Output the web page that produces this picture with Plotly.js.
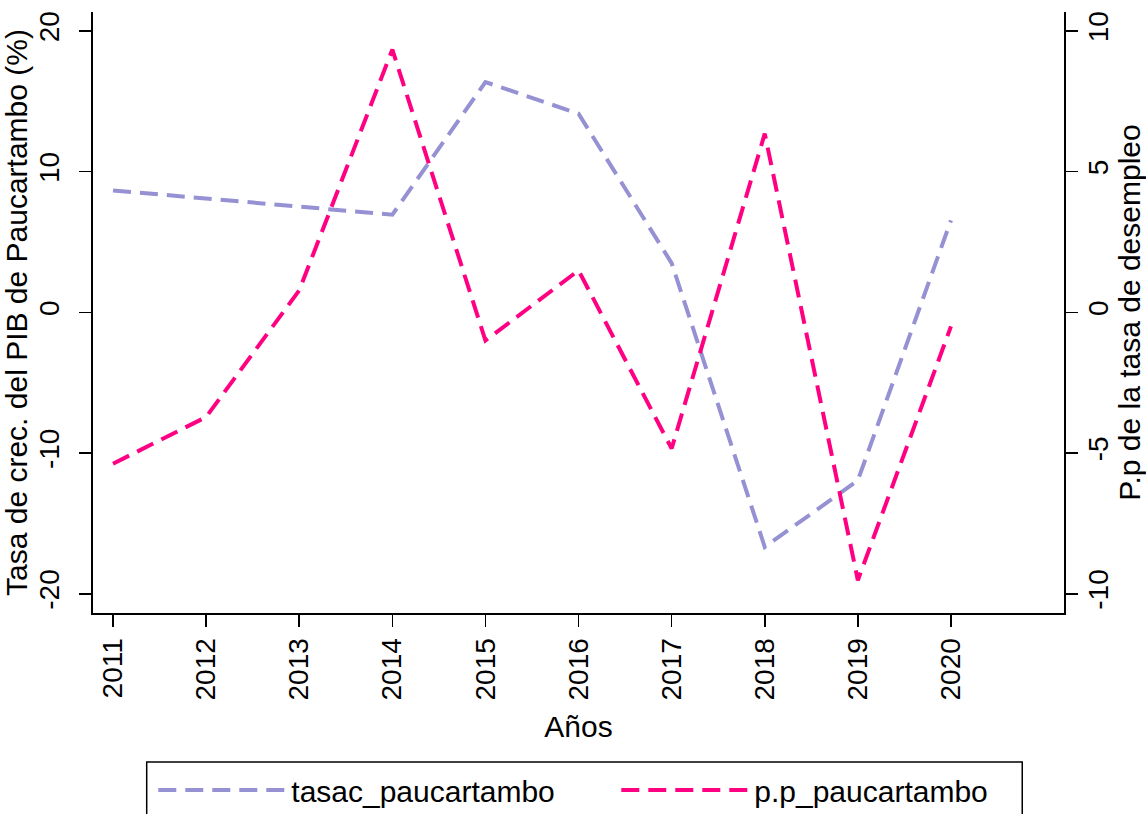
<!DOCTYPE html>
<html>
<head>
<meta charset="utf-8">
<script src="https://cdn.plot.ly/plotly-3.0.1.min.js"></script>
<style>html,body{margin:0;padding:0;background:#fff;}#chart{width:1146px;height:814px;}</style>
</head>
<body>
<div id="chart"></div>
<script>
const years = [2011, 2012, 2013, 2014, 2015, 2016, 2017, 2018, 2019, 2020];
const tasacPaucartambo = [8.67, 8.1, 7.5, 6.94, 16.37, 14.12, 3.5, -16.68, -11.94, 6.54];
const ppPaucartambo = [-5.38, -3.72, 0.78, 9.34, -1.0, 1.49, -4.84, 6.35, -9.52, -0.5];
const leftTicks = [-20, -10, 0, 10, 20];
const rightTicks = [-10, -5, 0, 5, 10];
const seriesNames = ['tasac_paucartambo', 'p.p_paucartambo'];

const FONT = 'Liberation Sans, Arial, Helvetica, sans-serif';
const axisCommon = {
  showgrid: false, zeroline: false, showline: true, linecolor: '#000', linewidth: 2,
  ticks: 'outside', ticklen: 12, tickwidth: 1.6, tickcolor: '#000',
  tickfont: {family: FONT, size: 28, color: '#000'}, tickangle: -90,
  automargin: false, fixedrange: true
};

const traces = [
  {x: years, y: tasacPaucartambo, name: seriesNames[0], type: 'scatter', mode: 'lines',
   line: {color: '#9591d3', width: 4, dash: '18px,9px'}, yaxis: 'y'},
  {x: years, y: ppPaucartambo, name: seriesNames[1], type: 'scatter', mode: 'lines',
   line: {color: '#ff0082', width: 4, dash: '18px,9px'}, yaxis: 'y2'}
];

const layout = {
  width: 1146, height: 814,
  margin: {l: 93, r: 82, t: 12, b: 201, autoexpand: false},
  paper_bgcolor: '#fff', plot_bgcolor: '#fff',
  font: {family: FONT, color: '#000'},
  showlegend: true,
  xaxis: Object.assign({}, axisCommon, {
    range: [2010.785, 2021.214], tickmode: 'array', tickvals: years, ticktext: years.map(String),
    ticklabelstandoff: 0,
    title: {text: 'Años', font: {family: FONT, size: 30, color: '#000'}, standoff: 17}
  }),
  yaxis: Object.assign({}, axisCommon, {
    range: [-21.37, 21.35], tickmode: 'array', tickvals: leftTicks, ticktext: leftTicks.map(String),
    ticklabelstandoff: 9,
    title: {text: 'Tasa de crec. del PIB de Paucartambo (%)', font: {family: FONT, size: 30, color: '#000'}, standoff: 4}
  }),
  yaxis2: Object.assign({}, axisCommon, {
    overlaying: 'y', side: 'right', anchor: 'x',
    range: [-10.685, 10.675], tickmode: 'array', tickvals: rightTicks, ticktext: rightTicks.map(String),
    ticklabelstandoff: -4,
    title: {text: 'P.p de la tasa de desempleo', font: {family: FONT, size: 30, color: '#000'}, standoff: 12}
  }),
  legend: {
    orientation: 'h', x: 0.0621, y: -0.2945, xanchor: 'left', yanchor: 'middle',
    font: {family: FONT, size: 30, color: '#000'}, itemwidth: 128,
    entrywidth: 320, entrywidthmode: 'pixels',
    bgcolor: 'rgba(0,0,0,0)', borderwidth: 0, itemclick: false, itemdoubleclick: false
  },
  shapes: [{
    type: 'rect', xref: 'paper', yref: 'paper',
    x0: 0.0553, x1: 0.957, y0: -0.2479, y1: -0.365,
    line: {color: '#000', width: 1.5}, fillcolor: 'rgba(0,0,0,0)', layer: 'below'
  }]
};

Plotly.newPlot('chart', traces, layout, {displayModeBar: false, staticPlot: true});
</script>
</body>
</html>
